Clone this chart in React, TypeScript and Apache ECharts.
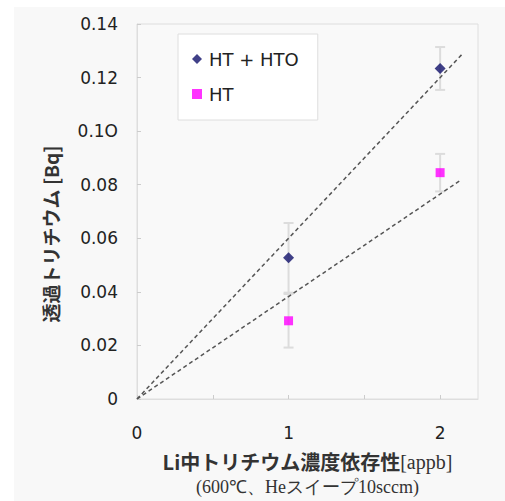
import React, { useEffect, useRef } from "react";
import * as echarts from "echarts";

const xValues = [1, 2];
const htHto = [0.0527, 0.1234];
const htHtoErr = [0.013, 0.008];
const ht = [0.0292, 0.0845];
const htErr = [0.01, 0.007];
const htHtoFitX = [0, 2.15];
const htHtoFitY = [0, 0.129];
const htFitX = [0, 2.13];
const htFitY = [0, 0.0815];
const yTickLabels: Record<string, string> = {
  "0": "0",
  "0.02": "0.02",
  "0.04": "0.04",
  "0.06": "0.06",
  "0.08": "0.08",
  "0.1": "0.1O",
  "0.12": "0.12",
  "0.14": "0.14",
};
const xTickLabels: Record<string, string> = { "0": "0", "1": "1", "2": "2" };
const yAxisTitle = "透過トリチウム [Bq]";

const FONT = "DejaVu Sans";

export default function App() {
  const ref = useRef<HTMLDivElement>(null);
  useEffect(() => {
    document.body.style.margin = "0";
    const chart = echarts.init(ref.current!, undefined, { renderer: "svg" });
    const errRender = (params: any, api: any) => {
      const x = api.value(0);
      const lo = api.value(1);
      const hi = api.value(2);
      const top = api.coord([x, hi]);
      const bot = api.coord([x, lo]);
      const st = { stroke: "#dcdcdc", lineWidth: 2 };
      return {
        type: "group",
        children: [
          { type: "line", shape: { x1: top[0], y1: top[1], x2: bot[0], y2: bot[1] }, style: st },
          { type: "line", shape: { x1: top[0] - 5, y1: top[1], x2: top[0] + 5, y2: top[1] }, style: st },
          { type: "line", shape: { x1: bot[0] - 5, y1: bot[1], x2: bot[0] + 5, y2: bot[1] }, style: st },
        ],
      };
    };
    const errData = (vals: number[], errs: number[]) =>
      xValues.map((x, i) => [x, vals[i] - errs[i], vals[i] + errs[i]]);
    const dashed = { color: "#555", width: 1.5, type: [4, 3] as any };
    chart.setOption({
      animation: false,
      backgroundColor: "#ffffff",
      graphic: [
        {
          type: "rect",
          z: -10,
          shape: { x: 14, y: 7, width: 491, height: 494 },
          style: { fill: "#f8f8f8" },
          silent: true,
        },
        {
          type: "text",
          x: 50,
          y: 234,
          rotation: Math.PI / 2,
          style: {
            text: yAxisTitle,
            fontFamily: "Noto Sans CJK JP",
            fontSize: 19,
            fontWeight: "bold",
            fill: "#333",
            align: "center",
            verticalAlign: "middle",
          },
        },
      ],
      grid: {
        left: 137,
        top: 24,
        width: 341,
        height: 375,
        show: true,
        borderColor: "#dedede",
        borderWidth: 1,
        backgroundColor: "#f9f9f9",
      },
      legend: {
        left: 178,
        top: 34,
        orient: "vertical",
        backgroundColor: "#ffffff",
        borderColor: "#dedede",
        borderWidth: 1,
        borderRadius: 0,
        padding: [16, 19, 17, 14],
        itemGap: 17,
        itemWidth: 10,
        itemHeight: 10,
        data: [
          { name: "HT + HTO", icon: "diamond" },
          { name: "HT", icon: "rect" },
        ],
        textStyle: { fontFamily: FONT, fontSize: 18, color: "#222", padding: [0, 0, 0, 2] },
      },
      xAxis: {
        type: "value",
        min: 0,
        max: 2.25,
        interval: 0.5,
        axisLine: { show: true, lineStyle: { color: "#dedede" } },
        axisTick: { show: true, inside: true, length: 4, lineStyle: { color: "#cccccc" } },
        splitLine: { show: false },
        axisLabel: {
          margin: 25,
          fontFamily: FONT,
          fontSize: 17,
          color: "#222",
          showMaxLabel: false,
          formatter: (v: number) => xTickLabels[String(v)] ?? "",
        },
        nameLocation: "middle",
        nameGap: 50,
        name:
          "{a|Li中トリチウム濃度依存性}{b|[appb]}\n{c|(600℃、Heスイープ10sccm)}",
        nameTextStyle: {
          rich: {
            a: { fontFamily: "Noto Sans CJK JP", fontSize: 20, fontWeight: "bold", color: "#333", lineHeight: 25 },
            b: { fontFamily: "Liberation Serif", fontSize: 20, color: "#333", lineHeight: 25 },
            c: { fontFamily: "Liberation Serif", fontSize: 18, color: "#333", lineHeight: 25 },
          },
        },
      },
      yAxis: {
        type: "value",
        min: 0,
        max: 0.14,
        interval: 0.02,
        axisLine: { show: true, lineStyle: { color: "#dedede" } },
        axisTick: { show: true, inside: true, length: 4, lineStyle: { color: "#cccccc" } },
        splitLine: { show: false },
        axisLabel: {
          margin: 19,
          fontFamily: FONT,
          fontSize: 17,
          color: "#222",
          formatter: (v: number) => yTickLabels[String(Math.round(v * 100) / 100)] ?? "",
        },
      },
      series: [
        {
          type: "custom",
          name: "errHtHto",
          renderItem: errRender,
          data: errData(htHto, htHtoErr),
          z: 1,
          silent: true,
        },
        {
          type: "custom",
          name: "errHt",
          renderItem: errRender,
          data: errData(ht, htErr),
          z: 1,
          silent: true,
        },
        {
          type: "line",
          name: "fit1",
          data: htHtoFitX.map((x, i) => [x, htHtoFitY[i]]),
          symbol: "none",
          lineStyle: dashed,
          z: 2,
          silent: true,
        },
        {
          type: "line",
          name: "fit2",
          data: htFitX.map((x, i) => [x, htFitY[i]]),
          symbol: "none",
          lineStyle: dashed,
          z: 2,
          silent: true,
        },
        {
          type: "scatter",
          name: "HT + HTO",
          data: xValues.map((x, i) => [x, htHto[i]]),
          symbol: "diamond",
          symbolSize: 11,
          itemStyle: { color: "#10106a" },
          z: 3,
        },
        {
          type: "scatter",
          name: "HT",
          data: xValues.map((x, i) => [x, ht[i]]),
          symbol: "rect",
          symbolSize: 9,
          itemStyle: { color: "#ff00ff" },
          z: 3,
        },
      ],
    });
    return () => chart.dispose();
  }, []);
  return <div ref={ref} style={{ width: 505, height: 501 }} />;
}
